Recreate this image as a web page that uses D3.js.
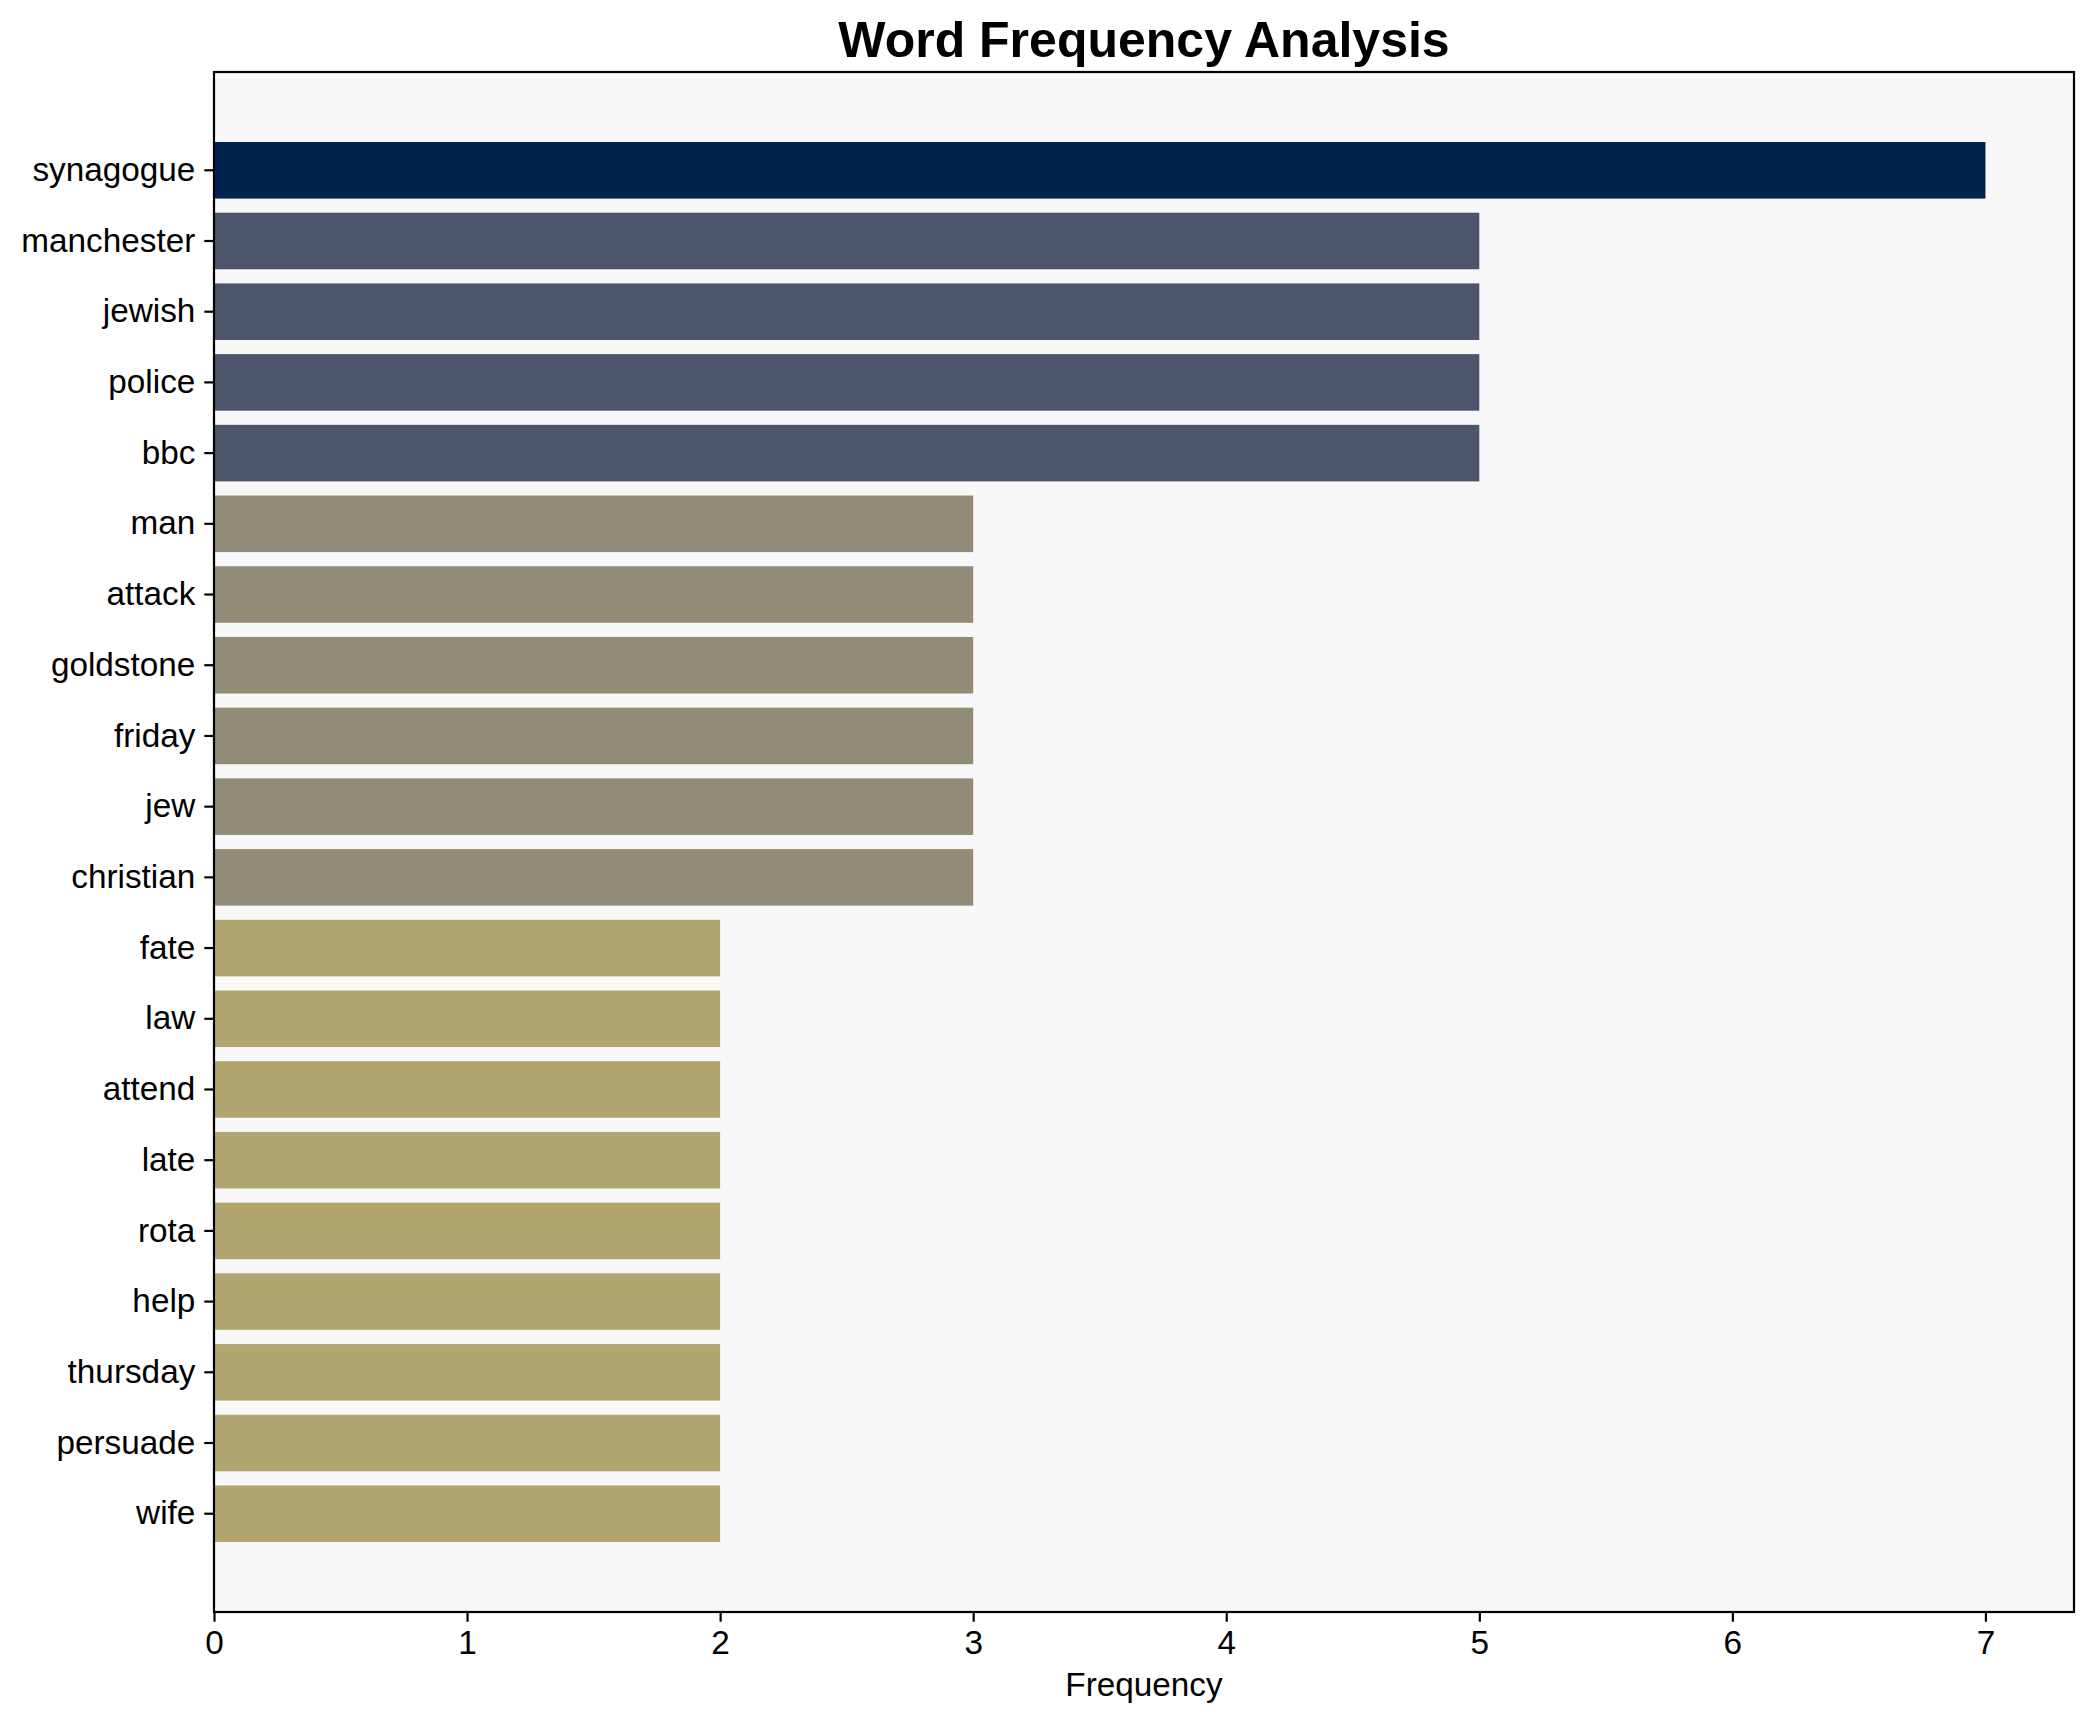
<!DOCTYPE html>
<html>
<head>
<meta charset="utf-8">
<script src="https://cdn.jsdelivr.net/npm/d3@7"></script>
<style>
  body { margin: 0; background: #ffffff; }
  svg { display: block; font-family: "Liberation Sans", Arial, Helvetica, sans-serif; }
</style>
</head>
<body>
<div id="chart"></div>
<script>
// words, top to bottom
const words = ["synagogue", "manchester", "jewish", "police", "bbc", "man", "attack",
    "goldstone", "friday", "jew", "christian", "fate", "law", "attend", "late", "rota",
    "help", "thursday", "persuade", "wife"];
const counts = [7, 5, 5, 5, 5, 3, 3, 3, 3, 3, 3, 2, 2, 2, 2, 2, 2, 2, 2, 2];
const xTicks = [0, 1, 2, 3, 4, 5, 6, 7];

// colour per count (cividis-ish, darker = more frequent)
const countColors = {7: "#00224e", 5: "#4c556c", 3: "#918b78", 2: "#b1a670"};

const width = 2093, height = 1722;
const margin = {top: 72, right: 19, bottom: 110, left: 214};
const innerW = width - margin.left - margin.right;
const innerH = height - margin.top - margin.bottom;

let svg = d3.select("#chart")
    .append("svg")
    .attr("width", width)
    .attr("height", height);

let g = svg.append("g")
    .attr("transform", `translate(${margin.left}, ${margin.top})`);

// x domain padded like matplotlib (5% margin)
let x = d3.scaleLinear()
    .domain([0, d3.max(counts) * 1.05])
    .range([0, innerW]);

let y = d3.scaleBand()
    .domain(words)
    .range([0, innerH])
    .paddingInner(0.2)
    .paddingOuter(0.99);

// axes background
g.append("rect")
    .attr("width", innerW)
    .attr("height", innerH)
    .attr("fill", "#f8f8f8");

// bars
g.selectAll(".bar")
    .data(words)
    .enter()
    .append("rect")
    .attr("class", "bar")
    .attr("x", x(0))
    .attr("y", d => y(d))
    .attr("width", (d, i) => x(counts[i]) - x(0))
    .attr("height", y.bandwidth())
    .attr("fill", (d, i) => countColors[counts[i]]);

// y axis
let yAxis = g.append("g")
    .call(d3.axisLeft(y).tickSize(9.7).tickPadding(9));
yAxis.select(".domain").remove();
yAxis.selectAll(".tick line").attr("stroke", "#000").attr("stroke-width", 2.2);
yAxis.selectAll(".tick text")
    .attr("fill", "#000")
    .style("font-size", "33.3px");

// x axis
let xAxis = g.append("g")
    .attr("transform", `translate(0, ${innerH})`)
    .call(d3.axisBottom(x).tickValues(xTicks).tickFormat(d3.format("d")).tickSize(9.7).tickPadding(9));
xAxis.select(".domain").remove();
xAxis.selectAll(".tick line").attr("stroke", "#000").attr("stroke-width", 2.2);
xAxis.selectAll(".tick text")
    .attr("fill", "#000")
    .style("font-size", "33.3px");

// frame
g.append("rect")
    .attr("width", innerW)
    .attr("height", innerH)
    .attr("fill", "none")
    .attr("stroke", "#000")
    .attr("stroke-width", 2.2);

// title and axis label
svg.append("text")
    .attr("x", margin.left + innerW / 2)
    .attr("y", 57)
    .attr("text-anchor", "middle")
    .style("font-size", "50px")
    .style("font-weight", "bold")
    .text("Word Frequency Analysis");

svg.append("text")
    .attr("x", margin.left + innerW / 2)
    .attr("y", 1696)
    .attr("text-anchor", "middle")
    .style("font-size", "33.3px")
    .text("Frequency");
</script>
</body>
</html>
